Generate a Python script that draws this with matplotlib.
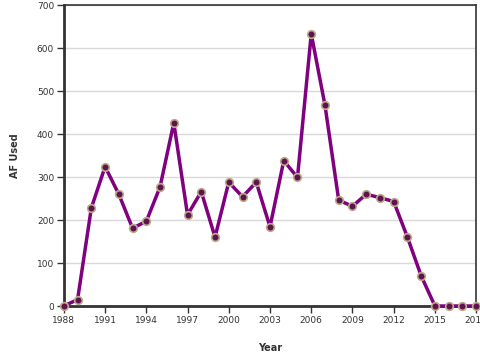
import matplotlib
matplotlib.use("Agg")
import matplotlib.pyplot as plt

years = list(range(1988, 2019))
af_used = [0, 15, 228, 324, 260, 181, 197, 277, 426, 212, 266, 160, 288, 254,
           288, 184, 338, 299, 633, 467, 246, 232, 260, 252, 243, 160, 70,
           0, 0, 0, 0]
xticks = list(range(1988, 2019, 3))
yticks = list(range(0, 701, 100))

plt.rcParams['font.family'] = 'DejaVu Sans'

fig = plt.figure(figsize=(4.8, 3.6), dpi=100)
ax = fig.add_axes([0.133, 0.15, 0.859, 0.836])

ax.plot(years, af_used, color='#800080', lw=2.5, marker='o', ms=5.5,
        mfc='#5e1350', mec='#bbab88', mew=1.2, zorder=3, clip_on=False)

ax.set_xlim(1988, 2018)
ax.set_ylim(0, 700)
ax.set_xticks(xticks)
ax.set_yticks(yticks)
ax.yaxis.grid(True, color='#d9d9d9', lw=1)
ax.set_axisbelow(True)

for side in ['left', 'bottom']:
    ax.spines[side].set_linewidth(2)
    ax.spines[side].set_color('#333333')
for side in ['top', 'right']:
    ax.spines[side].set_linewidth(1.2)
    ax.spines[side].set_color('#333333')

ax.tick_params(axis='both', labelsize=6.5, length=5, width=1,
               color='#333333', labelcolor='#333333', pad=2)

ax.set_xlabel('Year', fontsize=7, fontweight='bold', color='#333333', labelpad=13)
ax.set_ylabel('AF Used', fontsize=7, fontweight='bold', color='#333333', labelpad=12)

fig.savefig('out.png', dpi=100)
